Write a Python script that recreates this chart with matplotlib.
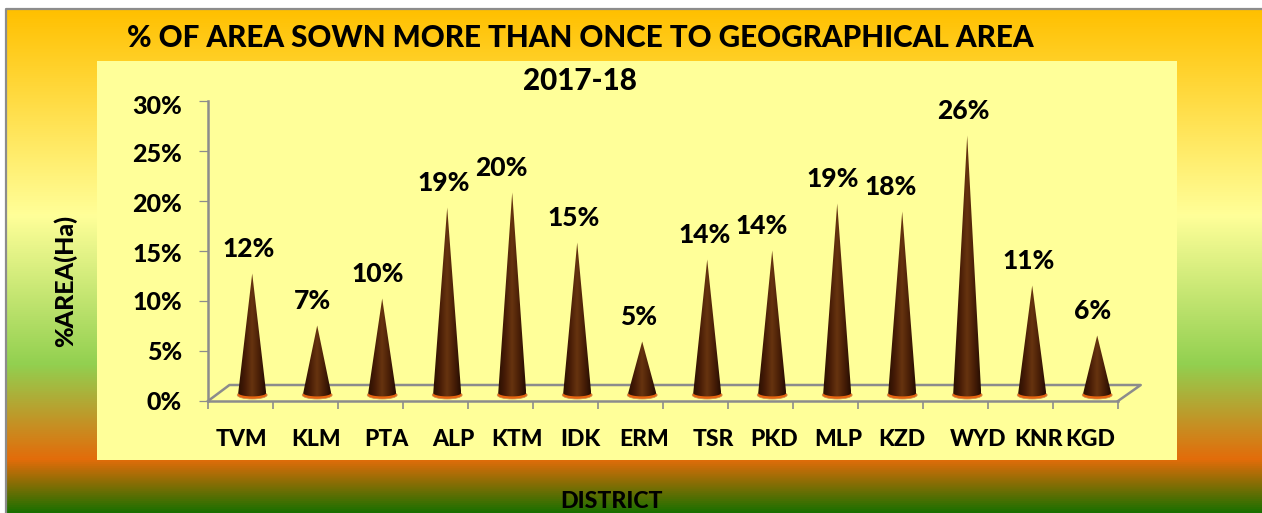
import numpy as np
import matplotlib
matplotlib.use('Agg')
from matplotlib import pyplot as plt
from matplotlib.colors import LinearSegmentedColormap
from matplotlib.patches import Polygon, Ellipse, Rectangle

plt.rcParams['font.family'] = ['Lato', 'DejaVu Sans']
plt.rcParams['font.weight'] = 'black'

districts = ['TVM', 'KLM', 'PTA', 'ALP', 'KTM', 'IDK', 'ERM', 'TSR', 'PKD', 'MLP', 'KZD', 'WYD', 'KNR', 'KGD']
values = [12.0, 6.8, 9.5, 18.6, 20.1, 15.1, 5.2, 13.4, 14.3, 19.0, 18.2, 25.8, 10.8, 5.8]
labels = ['12%', '7%', '10%', '19%', '20%', '15%', '5%', '14%', '14%', '19%', '18%', '26%', '11%', '6%']
yticks = [0, 5, 10, 15, 20, 25, 30]

W, H = 1262, 513
fig = plt.figure(figsize=(W / 100, H / 100), dpi=100, facecolor='white')

# page background with the outer gradient
bg = fig.add_axes([0, 0, 1, 1], zorder=0)
bg_cmap = LinearSegmentedColormap.from_list('bg', [
    (0.0, '#ffc000'), (0.41, '#ffff99'), (0.706, '#92d050'), (0.895, '#e36c0a'), (1.0, '#1b7000')])
grad = np.linspace(0, 1, 512).reshape(-1, 1)
bg.imshow(grad, cmap=bg_cmap, extent=[6, W, H, 9], aspect='auto')
bg.set_xlim(0, W)
bg.set_ylim(H, 0)
bg.axis('off')
bg.plot([6, 6, W], [H, 8.5, 8.5], color='#8c8c8c', lw=1.6)
bg.add_patch(Rectangle((97, 61), 1080, 399, fc='#ffff99', ec='none', zorder=3))

# chart axes, pixel box is x 208-1118, y 101-401
ax = fig.add_axes([208 / W, 1 - 401 / H, 910 / W, 300 / H], zorder=1)
ax.patch.set_alpha(0)
for s in ['top', 'right']:
    ax.spines[s].set_visible(False)
for s in ['left', 'bottom']:
    ax.spines[s].set_color('#8c8c8c')
    ax.spines[s].set_linewidth(1.8)
ax.set_yticks(yticks)
ax.set_yticklabels([])
ax.tick_params(axis='y', length=6.5, width=0.9, color='#8c8c8c')
ax.set_xticks(range(15))
ax.set_xticklabels([])
ax.tick_params(axis='x', length=5.8, width=1.2, color='#8c8c8c')

# y labels drop a little below their ticks at the top of the scale
ylabel_px = [401, 351, 301, 252, 202, 153, 105]
for t, py in zip(yticks, ylabel_px):
    fig.text(182 / W, 1 - py / H, str(t) + '%', ha='right', va='center_baseline', fontsize=18, color='black', zorder=6)

# floor of the 3d box
dx = 0.33
dy = 1.6
ax.plot([0, dx, 14 + dx + 0.02, 14], [0, dy, dy, 0], color='#8c8c8c', lw=1.8, clip_on=False, zorder=1)

cone_cmap = LinearSegmentedColormap.from_list('cone', ['#2a0f02', '#471c06', '#67340f', '#4a1f07', '#260d02'])
shade = np.linspace(0, 1, 64).reshape(1, -1)
half = 0.215
base = 0.8
arc = np.linspace(0, np.pi, 30)
for i, v in enumerate(values):
    c = i + 0.5 + 0.18
    tip = v + 0.75
    ax.add_patch(Ellipse((c, base - 0.2), half * 2.14, 0.8, fc='#e8650f', ec='#c98a50', lw=0.5, zorder=2))
    im = ax.imshow(shade, cmap=cone_cmap, extent=[c - half, c + half, base - 0.4, tip],
                   aspect='auto', zorder=3)
    # cone outline, the apex plus the front half of the base ellipse
    outline = [(c, tip)] + list(zip(c + half * np.cos(arc), base - 0.34 * np.sin(arc)))
    tri = Polygon(outline, transform=ax.transData, fc='none', ec='none')
    ax.add_patch(tri)
    im.set_clip_path(tri)
ax.set_xlim(0, 14)
ax.set_ylim(0, 30)

# data labels sit above the tips, a few were nudged left in the original
nudge = [-4, -5, -4, -3, -11, -4, -4, -3, -11, -4, -12, -4, -4, -5]
for i, v in enumerate(values):
    ax.annotate(labels[i], (i + 0.68, v + 0.75), xytext=(nudge[i] * 0.72, 17.5), textcoords='offset points',
                ha='center', va='center', fontsize=19, color='black', zorder=5, annotation_clip=False)

# category labels are unevenly spaced in the original
label_px = [241, 316, 386, 453, 517, 580, 644, 713, 774, 838, 902, 978, 1039, 1090]
for name, px in zip(districts, label_px):
    fig.text(px / W, 1 - 439 / H, name, ha='center', va='center', fontsize=16.5, color='black', zorder=6)

fig.text(580 / W, 1 - 38 / H, '% OF AREA SOWN MORE THAN ONCE TO GEOGRAPHICAL AREA', ha='center', va='center',
         fontsize=21.3, color='black', zorder=6)
fig.text(580 / W, 1 - 81 / H, '2017-18', ha='center', va='center', fontsize=21.3, color='black', zorder=6)
fig.text(65 / W, 1 - 281 / H, '%AREA(Ha)', rotation=90, ha='center', va='center', fontsize=18, color='black', zorder=6)
fig.text(612 / W, 1 - 501 / H, 'DISTRICT', ha='center', va='center', fontsize=16.7, color='black', zorder=6)

fig.savefig('out.png', dpi=100)
plt.close()
